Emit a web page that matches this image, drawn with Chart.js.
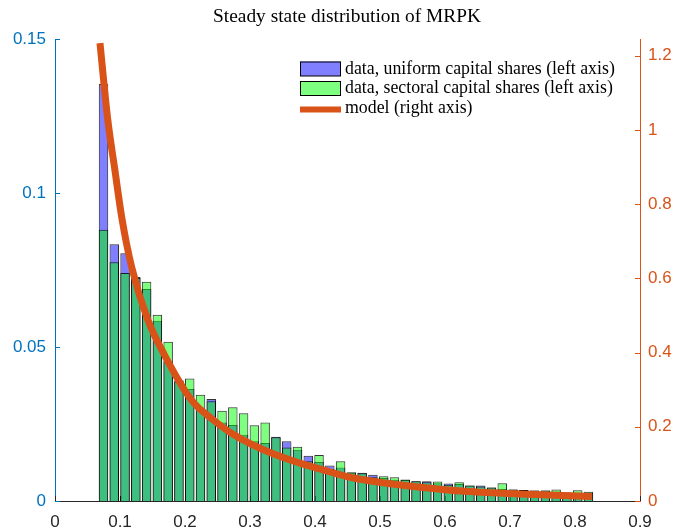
<!DOCTYPE html>
<html lang="en">
<head>
<meta charset="UTF-8">
<title>Steady state distribution of MRPK</title>
<script src="https://cdn.jsdelivr.net/npm/chart.js"></script>
<style>
  body { margin: 0; background: #fff; }
  canvas { display: block; }
</style>
</head>
<body>
<canvas id="mrpkChart" width="675" height="529"></canvas>
<script>
// histogram bins (all of equal width, starting at 0)
const binWidth = 0.01658;

const uniformShares = [
  0, 0, 0, 0,
  0.1354, 0.0834, 0.0804, 0.0727, 0.0688, 0.0585, 0.0452, 0.0392, 0.0364, 0.0300,
  0.0331, 0.0255, 0.0247, 0.0215, 0.0194, 0.0188, 0.0209, 0.0194, 0.0166, 0.0147,
  0.0127, 0.0115, 0.0109, 0.0092, 0.0092, 0.0085, 0.0075, 0.0069, 0.0068, 0.0064,
  0.0064, 0.0058, 0.0057, 0.0055, 0.0050, 0.0050, 0.0044, 0.0039, 0.0037, 0.0036,
  0.0034, 0.0034, 0.0031, 0.0028, 0.0028, 0.0027
];
const sectoralShares = [
  0, 0, 0, 0,
  0.0881, 0.0775, 0.0740, 0.0724, 0.0712, 0.0605, 0.0517, 0.0388, 0.0398, 0.0345,
  0.0324, 0.0293, 0.0304, 0.0285, 0.0246, 0.0255, 0.0207, 0.0174, 0.0176, 0.0129,
  0.0149, 0.0104, 0.0129, 0.0093, 0.0090, 0.0077, 0.0080, 0.0077, 0.0070, 0.0064,
  0.0061, 0.0063, 0.0053, 0.0061, 0.0050, 0.0047, 0.0044, 0.0058, 0.0037, 0.0036,
  0.0034, 0.0034, 0.0037, 0.0028, 0.0035, 0.0030
];

// model density (right axis)
const modelMrpk = [0.0692, 0.081, 0.0923, 0.1031, 0.118, 0.142, 0.1677, 0.210, 0.241,
  0.274, 0.326, 0.377, 0.420, 0.459, 0.510, 0.562, 0.630, 0.726, 0.826];
const modelDensity = [1.234, 1.030, 0.890, 0.760, 0.630, 0.492, 0.396, 0.272, 0.222,
  0.180, 0.134, 0.102, 0.080, 0.062, 0.048, 0.037, 0.026, 0.018, 0.012];

// ticks
const xTicks = [0, 0.1, 0.2, 0.3, 0.4, 0.5, 0.6, 0.7, 0.8, 0.9];
const leftTicks = [0, 0.05, 0.1, 0.15];
const rightTicks = [0, 0.2, 0.4, 0.6, 0.8, 1, 1.2];

const titleText = 'Steady state distribution of MRPK';
const legendLabels = [
  'data, uniform capital shares (left axis)',
  'data, sectoral capital shares (left axis)',
  'model (right axis)'
];

const BLUE_AX = '#0072BD';
const ORANGE = '#D95319';
const DARK = '#262626';

const binCenters = uniformShares.map((_, i) => (i + 0.5) * binWidth);
const toPoints = (xs, ys) => xs.map((x, i) => ({ x: x, y: ys[i] }));
const plainNum = v => String(+Number(v).toFixed(4));

function fitFont(ctx, text, width, family) {
  ctx.font = '100px ' + family;
  const size = 100 * width / ctx.measureText(text).width;
  return size.toFixed(2) + 'px ' + family;
}

// inward tick marks, MATLAB style
const tickMarks = {
  id: 'tickMarks',
  beforeDatasetsDraw(chart) {
    const { ctx, chartArea: a, scales } = chart;
    ctx.save();
    ctx.lineWidth = 1;
    ctx.strokeStyle = BLUE_AX;
    leftTicks.forEach(v => {
      const py = Math.round(scales.y.getPixelForValue(v)) + 0.5;
      ctx.beginPath(); ctx.moveTo(a.left, py); ctx.lineTo(a.left + 5, py); ctx.stroke();
    });
    ctx.strokeStyle = ORANGE;
    rightTicks.forEach(v => {
      const py = Math.round(scales.y2.getPixelForValue(v)) + 0.5;
      ctx.beginPath(); ctx.moveTo(a.right, py); ctx.lineTo(a.right - 5, py); ctx.stroke();
    });
    ctx.strokeStyle = DARK;
    xTicks.forEach(v => {
      const px = Math.round(scales.x.getPixelForValue(v)) + 0.5;
      ctx.beginPath(); ctx.moveTo(px, a.bottom); ctx.lineTo(px, a.bottom - 5); ctx.stroke();
    });
    ctx.restore();
  }
};

// title and legend
const decor = {
  id: 'decor',
  afterDraw(chart) {
    const ctx = chart.ctx;
    ctx.save();
    ctx.fillStyle = '#000';
    ctx.textAlign = 'center';
    ctx.textBaseline = 'alphabetic';
    ctx.font = fitFont(ctx, titleText, 268, 'Liberation Serif');
    ctx.fillText(titleText, 347, 22);

    ctx.font = fitFont(ctx, legendLabels[0], 270, 'Liberation Serif');
    ctx.textAlign = 'left';
    const sw = [
      { fill: 'rgba(0,0,255,0.5)', y: 61.5 },
      { fill: 'rgba(0,255,0,0.5)', y: 81 }
    ];
    sw.forEach(s => {
      ctx.fillStyle = s.fill;
      ctx.fillRect(300, s.y, 41, 14.5);
      ctx.strokeStyle = '#000';
      ctx.lineWidth = 1;
      ctx.strokeRect(300.5, s.y + 0.5, 40, 14);
    });
    ctx.strokeStyle = ORANGE;
    ctx.lineWidth = 6;
    ctx.beginPath(); ctx.moveTo(300, 109.5); ctx.lineTo(341, 109.5); ctx.stroke();

    ctx.fillStyle = '#000';
    ctx.fillText(legendLabels[0], 345, 73.5);
    ctx.fillText(legendLabels[1], 345, 93);
    ctx.fillText(legendLabels[2], 345, 113);
    ctx.restore();
  }
};

const tickFont = { family: 'Liberation Sans', size: 17 };

new Chart(document.getElementById('mrpkChart'), {
  type: 'bar',
  data: {
    datasets: [
      {
        type: 'line',
        label: legendLabels[2],
        data: toPoints(modelMrpk, modelDensity),
        yAxisID: 'y2',
        borderColor: ORANGE,
        borderWidth: 7,
        borderCapStyle: 'butt',
        pointRadius: 0,
        cubicInterpolationMode: 'monotone',
        fill: false,
        order: 0
      },
      {
        label: legendLabels[1],
        data: toPoints(binCenters, sectoralShares),
        yAxisID: 'y',
        backgroundColor: 'rgba(0,255,0,0.5)',
        borderColor: 'rgba(0,0,0,0.8)',
        borderWidth: 1,
        grouped: false,
        barPercentage: 0.88,
        categoryPercentage: 1,
        order: 1
      },
      {
        label: legendLabels[0],
        data: toPoints(binCenters, uniformShares),
        yAxisID: 'y',
        backgroundColor: 'rgba(0,0,255,0.5)',
        borderColor: 'rgba(0,0,0,0.8)',
        borderWidth: 1,
        grouped: false,
        barPercentage: 0.88,
        categoryPercentage: 1,
        order: 2
      }
    ]
  },
  options: {
    responsive: false,
    animation: false,
    layout: { padding: { top: 39, left: 0, right: 0, bottom: 0 } },
    plugins: {
      legend: { display: false },
      title: { display: false },
      tooltip: { enabled: false }
    },
    scales: {
      x: {
        type: 'linear',
        min: 0, max: 0.9,
        offset: false,
        grid: { display: false, drawTicks: false },
        border: { display: true, color: DARK, width: 1 },
        ticks: { color: DARK, font: tickFont, padding: 11, callback: plainNum },
        afterBuildTicks: s => { s.ticks = xTicks.map(v => ({ value: v })); },
        afterFit: s => { s.height = 28; }
      },
      y: {
        position: 'left',
        min: 0, max: 0.15,
        grid: { display: false, drawTicks: false },
        border: { display: true, color: BLUE_AX, width: 1 },
        ticks: { color: BLUE_AX, font: tickFont, padding: 9, callback: plainNum },
        afterBuildTicks: s => { s.ticks = leftTicks.map(v => ({ value: v })); },
        afterFit: s => { s.width = 55; }
      },
      y2: {
        position: 'right',
        min: 0, max: 1.245,
        grid: { display: false, drawTicks: false },
        border: { display: true, color: ORANGE, width: 1 },
        ticks: { color: ORANGE, font: tickFont, padding: 8, callback: plainNum },
        afterBuildTicks: s => { s.ticks = rightTicks.map(v => ({ value: v })); },
        afterFit: s => { s.width = 35; }
      }
    }
  },
  plugins: [tickMarks, decor]
});
</script>
</body>
</html>
